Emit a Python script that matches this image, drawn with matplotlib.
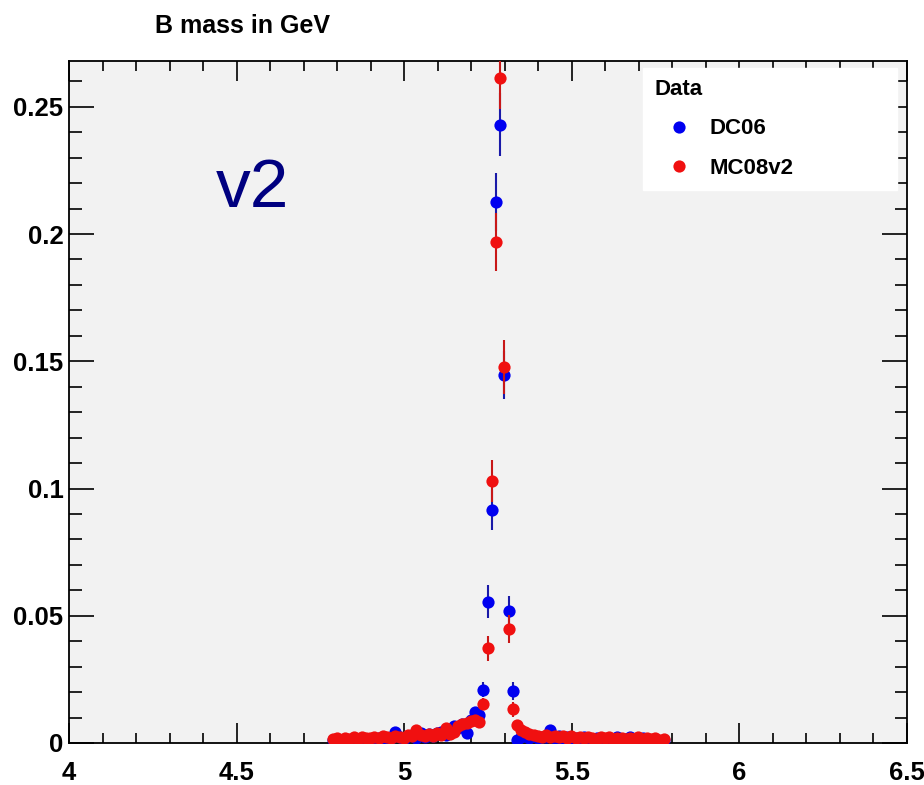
import numpy as np
import matplotlib
matplotlib.use("Agg")
import matplotlib.pyplot as plt
from matplotlib.ticker import MultipleLocator, FixedLocator
from matplotlib.lines import Line2D

# ---------------- data ----------------
title = "B mass in GeV"
annotation = "v2"
legend_title = "Data"
series_names = ["DC06", "MC08v2"]

bin_low = 4.78
bin_width = 0.0125
n_bins = 80

dc06 = [
    0.0012, 0.0010, 0.0008, 0.0015, 0.0012, 0.0020, 0.0009, 0.0018, 0.0011, 0.0007,
    0.0016, 0.0021, 0.0013, 0.0010, 0.0019, 0.0043, 0.0022, 0.0014, 0.0026, 0.0031,
    0.0018, 0.0040, 0.0024, 0.0035, 0.0029, 0.0038, 0.0045, 0.0033, 0.0052, 0.0068,
    0.0057, 0.0075, 0.0040, 0.0090, 0.0123, 0.0110, 0.0210, 0.0556, 0.0915, 0.2125,
    0.2430, 0.1447, 0.0518, 0.0205, 0.0012, 0.0024, 0.0030, 0.0021, 0.0027, 0.0018,
    0.0025, 0.0022, 0.0050, 0.0019, 0.0026, 0.0015, 0.0023, 0.0012, 0.0020, 0.0009,
    0.0024, 0.0018, 0.0011, 0.0021, 0.0016, 0.0008, 0.0019, 0.0013, 0.0025, 0.0010,
    0.0017, 0.0022, 0.0012, 0.0008, 0.0018, 0.0014, 0.0010, 0.0016, 0.0009, 0.0012,
]
dc06_err = [
    0.0008, 0.0008, 0.0008, 0.0008, 0.0008, 0.0008, 0.0008, 0.0008, 0.0008, 0.0008,
    0.0008, 0.0008, 0.0008, 0.0008, 0.0008, 0.0010, 0.0008, 0.0008, 0.0008, 0.0008,
    0.0008, 0.0010, 0.0008, 0.0009, 0.0008, 0.0009, 0.0010, 0.0009, 0.0010, 0.0012,
    0.0011, 0.0012, 0.0010, 0.0014, 0.0016, 0.0015, 0.0028, 0.0063, 0.0079, 0.0114,
    0.0125, 0.0095, 0.0060, 0.0035, 0.0008, 0.0008, 0.0009, 0.0008, 0.0008, 0.0008,
    0.0008, 0.0008, 0.0010, 0.0008, 0.0008, 0.0008, 0.0008, 0.0008, 0.0008, 0.0008,
    0.0008, 0.0008, 0.0008, 0.0008, 0.0008, 0.0008, 0.0008, 0.0008, 0.0008, 0.0008,
    0.0008, 0.0008, 0.0008, 0.0008, 0.0008, 0.0008, 0.0008, 0.0008, 0.0008, 0.0008,
]
mc08v2 = [
    0.0015, 0.0018, 0.0013, 0.0020, 0.0017, 0.0022, 0.0016, 0.0024, 0.0019, 0.0021,
    0.0025, 0.0018, 0.0027, 0.0022, 0.0020, 0.0028, 0.0024, 0.0019, 0.0031, 0.0026,
    0.0050, 0.0030, 0.0027, 0.0035, 0.0029, 0.0038, 0.0032, 0.0060, 0.0036, 0.0045,
    0.0068, 0.0075, 0.0080, 0.0085, 0.0090, 0.0082, 0.0153, 0.0372, 0.1030, 0.1970,
    0.2615, 0.1478, 0.0448, 0.0133, 0.0070, 0.0052, 0.0042, 0.0035, 0.0030, 0.0028,
    0.0025, 0.0030, 0.0022, 0.0027, 0.0024, 0.0029, 0.0021, 0.0026, 0.0020, 0.0023,
    0.0018, 0.0025, 0.0020, 0.0017, 0.0022, 0.0019, 0.0024, 0.0016, 0.0021, 0.0018,
    0.0015, 0.0020, 0.0017, 0.0022, 0.0014, 0.0019, 0.0016, 0.0021, 0.0013, 0.0015,
]
mc08v2_err = [
    0.0007, 0.0007, 0.0007, 0.0007, 0.0007, 0.0007, 0.0007, 0.0007, 0.0007, 0.0007,
    0.0007, 0.0007, 0.0007, 0.0007, 0.0007, 0.0007, 0.0007, 0.0007, 0.0008, 0.0007,
    0.0010, 0.0008, 0.0007, 0.0008, 0.0008, 0.0009, 0.0008, 0.0011, 0.0009, 0.0010,
    0.0012, 0.0012, 0.0013, 0.0013, 0.0014, 0.0013, 0.0025, 0.0048, 0.0083, 0.0114,
    0.0125, 0.0106, 0.0055, 0.0030, 0.0018, 0.0012, 0.0010, 0.0009, 0.0008, 0.0008,
    0.0007, 0.0008, 0.0007, 0.0007, 0.0007, 0.0008, 0.0007, 0.0007, 0.0007, 0.0007,
    0.0007, 0.0007, 0.0007, 0.0007, 0.0007, 0.0007, 0.0007, 0.0007, 0.0007, 0.0007,
    0.0007, 0.0007, 0.0007, 0.0007, 0.0007, 0.0007, 0.0007, 0.0007, 0.0007, 0.0007,
]

x_ticks = [4, 4.5, 5, 5.5, 6, 6.5]
x_tick_labels = ["4", "4.5", "5", "5.5", "6", "6.5"]
y_ticks = [0, 0.05, 0.1, 0.15, 0.2, 0.25]
y_tick_labels = ["0", "0.05", "0.1", "0.15", "0.2", "0.25"]

# ---------------- style ----------------
FONT = "Liberation Sans"
blue = "#0000f0"
blue_err = "#1a1aa8"
red = "#f01010"
red_err = "#c81818"
MS = 8.8

centers = bin_low + bin_width * (np.arange(n_bins) + 0.5)

fig = plt.figure(figsize=(9.24, 7.85), dpi=100)
fig.patch.set_facecolor("white")
W, H = 924, 785
L, R, T, B = 69, 907, 61, 743
ax = fig.add_axes([L / W, 1 - B / H, (R - L) / W, (B - T) / H])
ax.set_facecolor("#f2f2f2")

ax.errorbar(centers, dc06, yerr=dc06_err, fmt="o", color=blue, ecolor=blue_err,
            elinewidth=1.5, markersize=MS, markeredgewidth=0, capsize=0, zorder=3)
ax.errorbar(centers, mc08v2, yerr=mc08v2_err, fmt="o", color=red, ecolor=red_err,
            elinewidth=1.5, markersize=MS, markeredgewidth=0, capsize=0, zorder=4)

ax.set_xlim(4, 6.5)
ax.set_ylim(0, 0.268)
ax.xaxis.set_major_locator(FixedLocator(x_ticks))
ax.set_xticklabels(x_tick_labels)
ax.xaxis.set_minor_locator(MultipleLocator(0.1))
ax.yaxis.set_major_locator(FixedLocator(y_ticks))
ax.set_yticklabels(y_tick_labels)
ax.yaxis.set_minor_locator(MultipleLocator(0.01))

ax.tick_params(axis="both", which="both", direction="in", top=True, right=True,
               color="black", width=1.2)
ax.tick_params(axis="x", which="major", length=14.4, pad=13)
ax.tick_params(axis="x", which="minor", length=7.2)
ax.tick_params(axis="y", which="major", length=18, pad=4)
ax.tick_params(axis="y", which="minor", length=9)
for lab in ax.get_xticklabels() + ax.get_yticklabels():
    lab.set_fontfamily(FONT)
    lab.set_fontweight("bold")
    lab.set_fontsize(18.5)
for s in ax.spines.values():
    s.set_linewidth(1.3)
    s.set_color("black")

ax.text(4.437, 0.2107, annotation, fontsize=50, color="#000080",
        fontfamily=FONT, va="baseline", ha="left")

fig.text(155 / W, 1 - 33 / H, title, fontsize=18, fontweight="bold",
         fontfamily=FONT, va="baseline", ha="left")

handles = [Line2D([], [], linestyle="none", marker="o", markersize=MS,
                  markeredgewidth=0, color=c) for c in (blue, red)]
leg = ax.legend(handles, series_names, title=legend_title,
                loc="upper left",
                bbox_to_anchor=((643 - L) / (R - L), (B - 68) / (B - T),
                                (897 - 643) / (R - L), 0),
                mode="expand", alignment="left",
                prop={"family": FONT, "weight": "bold", "size": 16},
                title_fontproperties={"family": FONT, "weight": "bold", "size": 16},
                frameon=True, fancybox=False, framealpha=1,
                facecolor="white", edgecolor="white",
                handlelength=2.2, handletextpad=0.3, labelspacing=0.82,
                borderpad=0.5, borderaxespad=0)

fig.savefig("out.png", dpi=100)
